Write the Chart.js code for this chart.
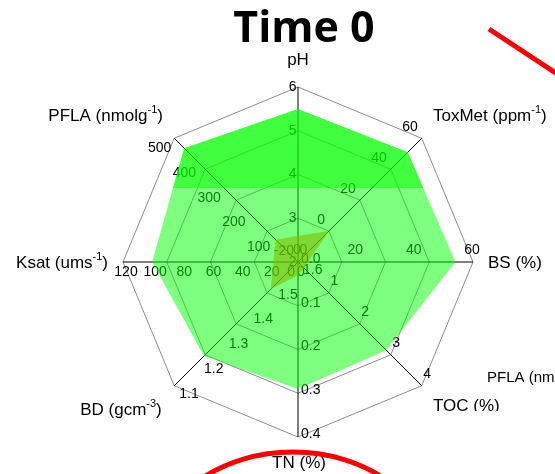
<!DOCTYPE html>
<html>
<head>
<meta charset="utf-8">
<script src="https://cdn.jsdelivr.net/npm/chart.js@4/dist/chart.umd.min.js"></script>
<style>
  html, body { margin: 0; padding: 0; background: #fff; }
  canvas { display: block; }
</style>
</head>
<body>
<canvas id="spider" width="555" height="474"></canvas>
<script>
// Soil properties shown on the spokes, clockwise from the top
const axes = ['pH', 'ToxMet', 'BS', 'TOC', 'TN', 'BD', 'Ksat', 'PFLA'];
// Value at the centre and at the outer ring of each spoke (BD runs inverted)
const axisMin = [2, -20, 0, 0, 0, 1.6, 0, 0];
const axisMax = [6, 60, 60, 4, 0.4, 1.1, 120, 500];

// Tick labels written along each spoke
const pHTicks = ['2', '3', '4', '5', '6'];
const toxMetTicks = ['-20', '0', '20', '40', '60'];
const bsTicks = ['0', '20', '40', '60'];
const tocTicks = ['0', '1', '2', '3', '4'];
const tnTicks = ['0.0', '0.1', '0.2', '0.3', '0.4'];
const bdTicks = ['1.6', '1.5', '1.4', '1.3', '1.2', '1.1'];
const ksatTicks = ['0', '20', '40', '60', '80', '100', '120'];
const pflaTicks = ['0', '100', '200', '300', '400', '500'];

// Measured values, one per spoke
const timeZero = [5.5, 51, 54, 2.85, 0.29, 1.22, 100, 460];
const reference = [2.6, 0, 3.5, 0.2, 0.03, 1.49, 17, 90];

const RINGS = 4;
const tickSets = [pHTicks, toxMetTicks, bsTicks, tocTicks, tnTicks, bdTicks, ksatTicks, pflaTicks];

// Map a value on spoke i onto the shared 0..RINGS radial scale
function toRing(i, v) {
  return (v - axisMin[i]) / (axisMax[i] - axisMin[i]) * RINGS;
}

const LABEL_FONT = '"Liberation Sans", Arial, sans-serif';

// Placement of the tick text relative to its point on the spoke
const tickPlacement = [
  { align: 'right',  dx: -1.5, dy: 0 },
  { align: 'right',  dx: -4,   dy: -11 },
  { align: 'center', dx: -1,   dy: -12 },
  { align: 'left',   dx: 1.5,  dy: -12 },
  { align: 'left',   dx: 3,    dy: -3 },
  { align: 'left',   dx: 5,    dy: 8 },
  { align: 'center', dx: 3,    dy: 10 },
  { align: 'right',  dx: -3,   dy: 10 }
];

// Per-spoke tick labels, painted before the filled areas so they sit underneath
const spokeTicks = {
  id: 'spokeTicks',
  beforeDatasetsDraw(chart) {
    const scale = chart.scales.r;
    const ctx = chart.ctx;
    ctx.save();
    ctx.font = '14px ' + LABEL_FONT;
    ctx.fillStyle = '#000';
    ctx.textBaseline = 'middle';
    tickSets.forEach((labels, i) => {
      const p = tickPlacement[i];
      ctx.textAlign = p.align;
      labels.forEach(txt => {
        const pos = scale.getPointPositionForValue(i, toRing(i, parseFloat(txt)));
        ctx.fillText(txt, pos.x + p.dx, pos.y + p.dy);
      });
    });
    ctx.restore();
  }
};

// The upper part of the Time 0 area is laid down twice, giving a deeper green band
const upperBand = {
  id: 'upperBand',
  afterDatasetDraw(chart, args) {
    if (args.index !== 0) return;
    const pts = args.meta.data;
    const ctx = chart.ctx;
    ctx.save();
    ctx.beginPath();
    ctx.rect(0, 0, chart.width, 188);
    ctx.clip();
    ctx.beginPath();
    pts.forEach((pt, k) => k ? ctx.lineTo(pt.x, pt.y) : ctx.moveTo(pt.x, pt.y));
    ctx.closePath();
    ctx.fillStyle = chart.data.datasets[0].backgroundColor;
    ctx.fill();
    ctx.restore();
  }
};

// Text with optional superscript runs
function drawRich(ctx, parts, x, y, align, size) {
  const supSize = Math.round(size * 0.62);
  let width = 0;
  parts.forEach(p => {
    ctx.font = (p.sup ? supSize : size) + 'px ' + LABEL_FONT;
    p.w = ctx.measureText(p.t).width;
    width += p.w;
  });
  let cx = align === 'center' ? x - width / 2 : align === 'right' ? x - width : x;
  ctx.textAlign = 'left';
  ctx.textBaseline = 'middle';
  parts.forEach(p => {
    ctx.font = (p.sup ? supSize : size) + 'px ' + LABEL_FONT;
    ctx.fillText(p.t, cx, p.sup ? y - size * 0.38 : y);
    cx += p.w;
  });
}

const decorations = {
  id: 'decorations',
  afterDraw(chart) {
    const ctx = chart.ctx;
    ctx.save();
    ctx.fillStyle = '#000';

    // Title
    ctx.font = 'bold 43px "Open Sans", "Liberation Sans", sans-serif';
    ctx.textAlign = 'center';
    ctx.textBaseline = 'alphabetic';
    ctx.fillText('Time 0', 304, 42);

    // Spoke names
    drawRich(ctx, [{ t: 'pH' }], 298, 60, 'center', 17);
    drawRich(ctx, [{ t: 'ToxMet (ppm' }, { t: '-1', sup: true }, { t: ')' }], 433, 116, 'left', 17);
    drawRich(ctx, [{ t: 'BS (%)' }], 488, 263, 'left', 17);
    drawRich(ctx, [{ t: 'Ksat (ums' }, { t: '-1', sup: true }, { t: ')' }], 108, 263, 'right', 17);
    drawRich(ctx, [{ t: 'PFLA (nmolg' }, { t: '-1', sup: true }, { t: ')' }], 163, 116, 'right', 17);
    drawRich(ctx, [{ t: 'BD (gcm' }, { t: '-3', sup: true }, { t: ')' }], 121, 410, 'center', 17);
    drawRich(ctx, [{ t: 'TN (%)' }], 299, 463, 'center', 17);

    ctx.save();
    ctx.beginPath();
    ctx.rect(420, 380, 135, 31);
    ctx.clip();
    drawRich(ctx, [{ t: 'TOC (%)' }], 433, 406, 'left', 17);
    ctx.restore();

    drawRich(ctx, [{ t: 'PFLA (nmolg' }, { t: '-1', sup: true }, { t: ')' }], 487, 378, 'left', 15);

    // Red markings
    ctx.strokeStyle = '#ff0000';
    ctx.lineWidth = 5;
    ctx.beginPath();
    ctx.moveTo(489, 29);
    ctx.lineTo(562, 77);
    ctx.stroke();

    ctx.beginPath();
    ctx.ellipse(293, 556, 137, 104, 0, Math.PI, 2 * Math.PI);
    ctx.stroke();

    ctx.restore();
  }
};

new Chart(document.getElementById('spider'), {
  type: 'radar',
  data: {
    labels: axes,
    datasets: [
      {
        label: 'Time 0',
        data: timeZero.map((v, i) => toRing(i, v)),
        backgroundColor: 'rgba(0, 255, 0, 0.5)',
        borderWidth: 0,
        pointRadius: 0,
        fill: true
      },
      {
        label: 'Reference',
        data: reference.map((v, i) => toRing(i, v)),
        backgroundColor: 'rgba(255, 120, 0, 0.6)',
        borderWidth: 0,
        pointRadius: 0,
        fill: true
      }
    ]
  },
  options: {
    responsive: false,
    animation: false,
    layout: { padding: { left: 123, top: 87, right: 82, bottom: 37 } },
    plugins: {
      legend: { display: false },
      title: { display: false },
      tooltip: { enabled: false }
    },
    elements: { line: { tension: 0 } },
    scales: {
      r: {
        min: 0,
        max: RINGS,
        startAngle: 0,
        ticks: { display: false, stepSize: 1 },
        pointLabels: { display: false },
        grid: { color: '#8c8c8c', lineWidth: 1 },
        angleLines: { color: '#000', lineWidth: 1 }
      }
    }
  },
  plugins: [spokeTicks, upperBand, decorations]
});
</script>
</body>
</html>
